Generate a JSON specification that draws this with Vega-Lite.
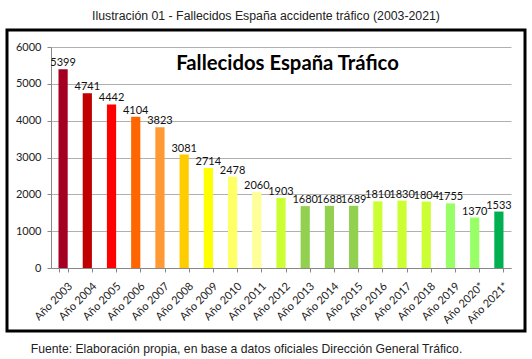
{
  "$schema": "https://vega.github.io/schema/vega-lite/v6.json",
  "width": 518,
  "height": 301,
  "autosize": {"type": "none"},
  "padding": {"left": 7, "top": 30, "right": 7, "bottom": 28},
  "background": "white",
  "config": {
    "view": {"stroke": "black", "strokeWidth": 3, "fill": "white"}
  },
  "title": {
    "text": "Ilustración 01 - Fallecidos España accidente tráfico (2003-2021)",
    "font": "Liberation Sans",
    "fontSize": 12.3,
    "fontWeight": "normal",
    "color": "#222",
    "anchor": "middle",
    "frame": "group",
    "offset": 8
  },
  "data": {
    "values": [
      {"year": "Año 2003", "deaths": 5399},
      {"year": "Año 2004", "deaths": 4741},
      {"year": "Año 2005", "deaths": 4442},
      {"year": "Año 2006", "deaths": 4104},
      {"year": "Año 2007", "deaths": 3823},
      {"year": "Año 2008", "deaths": 3081},
      {"year": "Año 2009", "deaths": 2714},
      {"year": "Año 2010", "deaths": 2478},
      {"year": "Año 2011", "deaths": 2060},
      {"year": "Año 2012", "deaths": 1903},
      {"year": "Año 2013", "deaths": 1680},
      {"year": "Año 2014", "deaths": 1688},
      {"year": "Año 2015", "deaths": 1689},
      {"year": "Año 2016", "deaths": 1810},
      {"year": "Año 2017", "deaths": 1830},
      {"year": "Año 2018", "deaths": 1804},
      {"year": "Año 2019", "deaths": 1755},
      {"year": "Año 2020*", "deaths": 1370},
      {"year": "Año 2021*", "deaths": 1533}
    ]
  },
  "encoding": {
    "x": {
      "field": "year",
      "type": "nominal",
      "sort": null,
      "scale": {"range": [44, 504], "paddingInner": 0.62, "paddingOuter": 0.31},
      "axis": {
        "orient": "bottom",
        "offset": -63,
        "title": "Fallecidos España Tráfico",
        "titleFont": "Lato",
        "titleFontSize": 20.3,
        "titleFontWeight": "bold",
        "titleColor": "black",
        "titleX": 280,
        "titleY": -199,
        "titleAlign": "center",
        "titleBaseline": "alphabetic",
        "titleAngle": 0,
        "labelAngle": -45,
        "labelAlign": "right",
        "labelBaseline": "top",
        "labelFont": "Lato",
        "labelFontSize": 11,
        "labelColor": "#222",
        "labelPadding": 8,
        "labelOffset": 3,
        "tickBand": "extent",
        "tickSize": 4,
        "tickColor": "#888",
        "domainColor": "#888",
        "grid": false
      }
    },
    "y": {
      "field": "deaths",
      "type": "quantitative",
      "scale": {"domain": [0, 6000], "range": [238, 17], "nice": false},
      "axis": {
        "orient": "left",
        "offset": -44,
        "values": [0, 1000, 2000, 3000, 4000, 5000, 6000],
        "format": "d",
        "title": "Fuente: Elaboración propia, en base a datos oficiales Dirección General Tráfico.",
        "titleAngle": 0,
        "titleX": 195,
        "titleY": 322,
        "titleAlign": "center",
        "titleBaseline": "alphabetic",
        "titleFont": "Liberation Sans",
        "titleFontSize": 12.2,
        "titleFontWeight": "normal",
        "titleColor": "#222",
        "labelFont": "Lato",
        "labelFontSize": 11,
        "labelColor": "#222",
        "labelPadding": 6,
        "tickSize": 4,
        "tickColor": "#888",
        "domainColor": "#888",
        "grid": true,
        "gridColor": "#b0b0b0"
      }
    }
  },
  "layer": [
    {
      "mark": {"type": "bar"},
      "encoding": {
        "color": {
          "field": "year",
          "type": "nominal",
          "sort": null,
          "legend": null,
          "scale": {
            "domain": ["Año 2003", "Año 2004", "Año 2005", "Año 2006", "Año 2007", "Año 2008", "Año 2009", "Año 2010", "Año 2011", "Año 2012", "Año 2013", "Año 2014", "Año 2015", "Año 2016", "Año 2017", "Año 2018", "Año 2019", "Año 2020*", "Año 2021*"],
            "range": ["#A50021", "#C00000", "#FF0000", "#FF6600", "#FF9933", "#FFCC00", "#FFFF00", "#FFFF66", "#FFFF99", "#CCFF33", "#92D050", "#92D050", "#92D050", "#CCFF33", "#CCFF33", "#CCFF33", "#99FF66", "#99FF66", "#00B050"]
          }
        }
      }
    },
    {
      "mark": {"type": "text", "baseline": "alphabetic", "dy": -3, "font": "Lato", "fontSize": 11, "color": "#111"},
      "encoding": {
        "text": {"field": "deaths", "type": "quantitative", "format": "d"}
      }
    }
  ]
}
